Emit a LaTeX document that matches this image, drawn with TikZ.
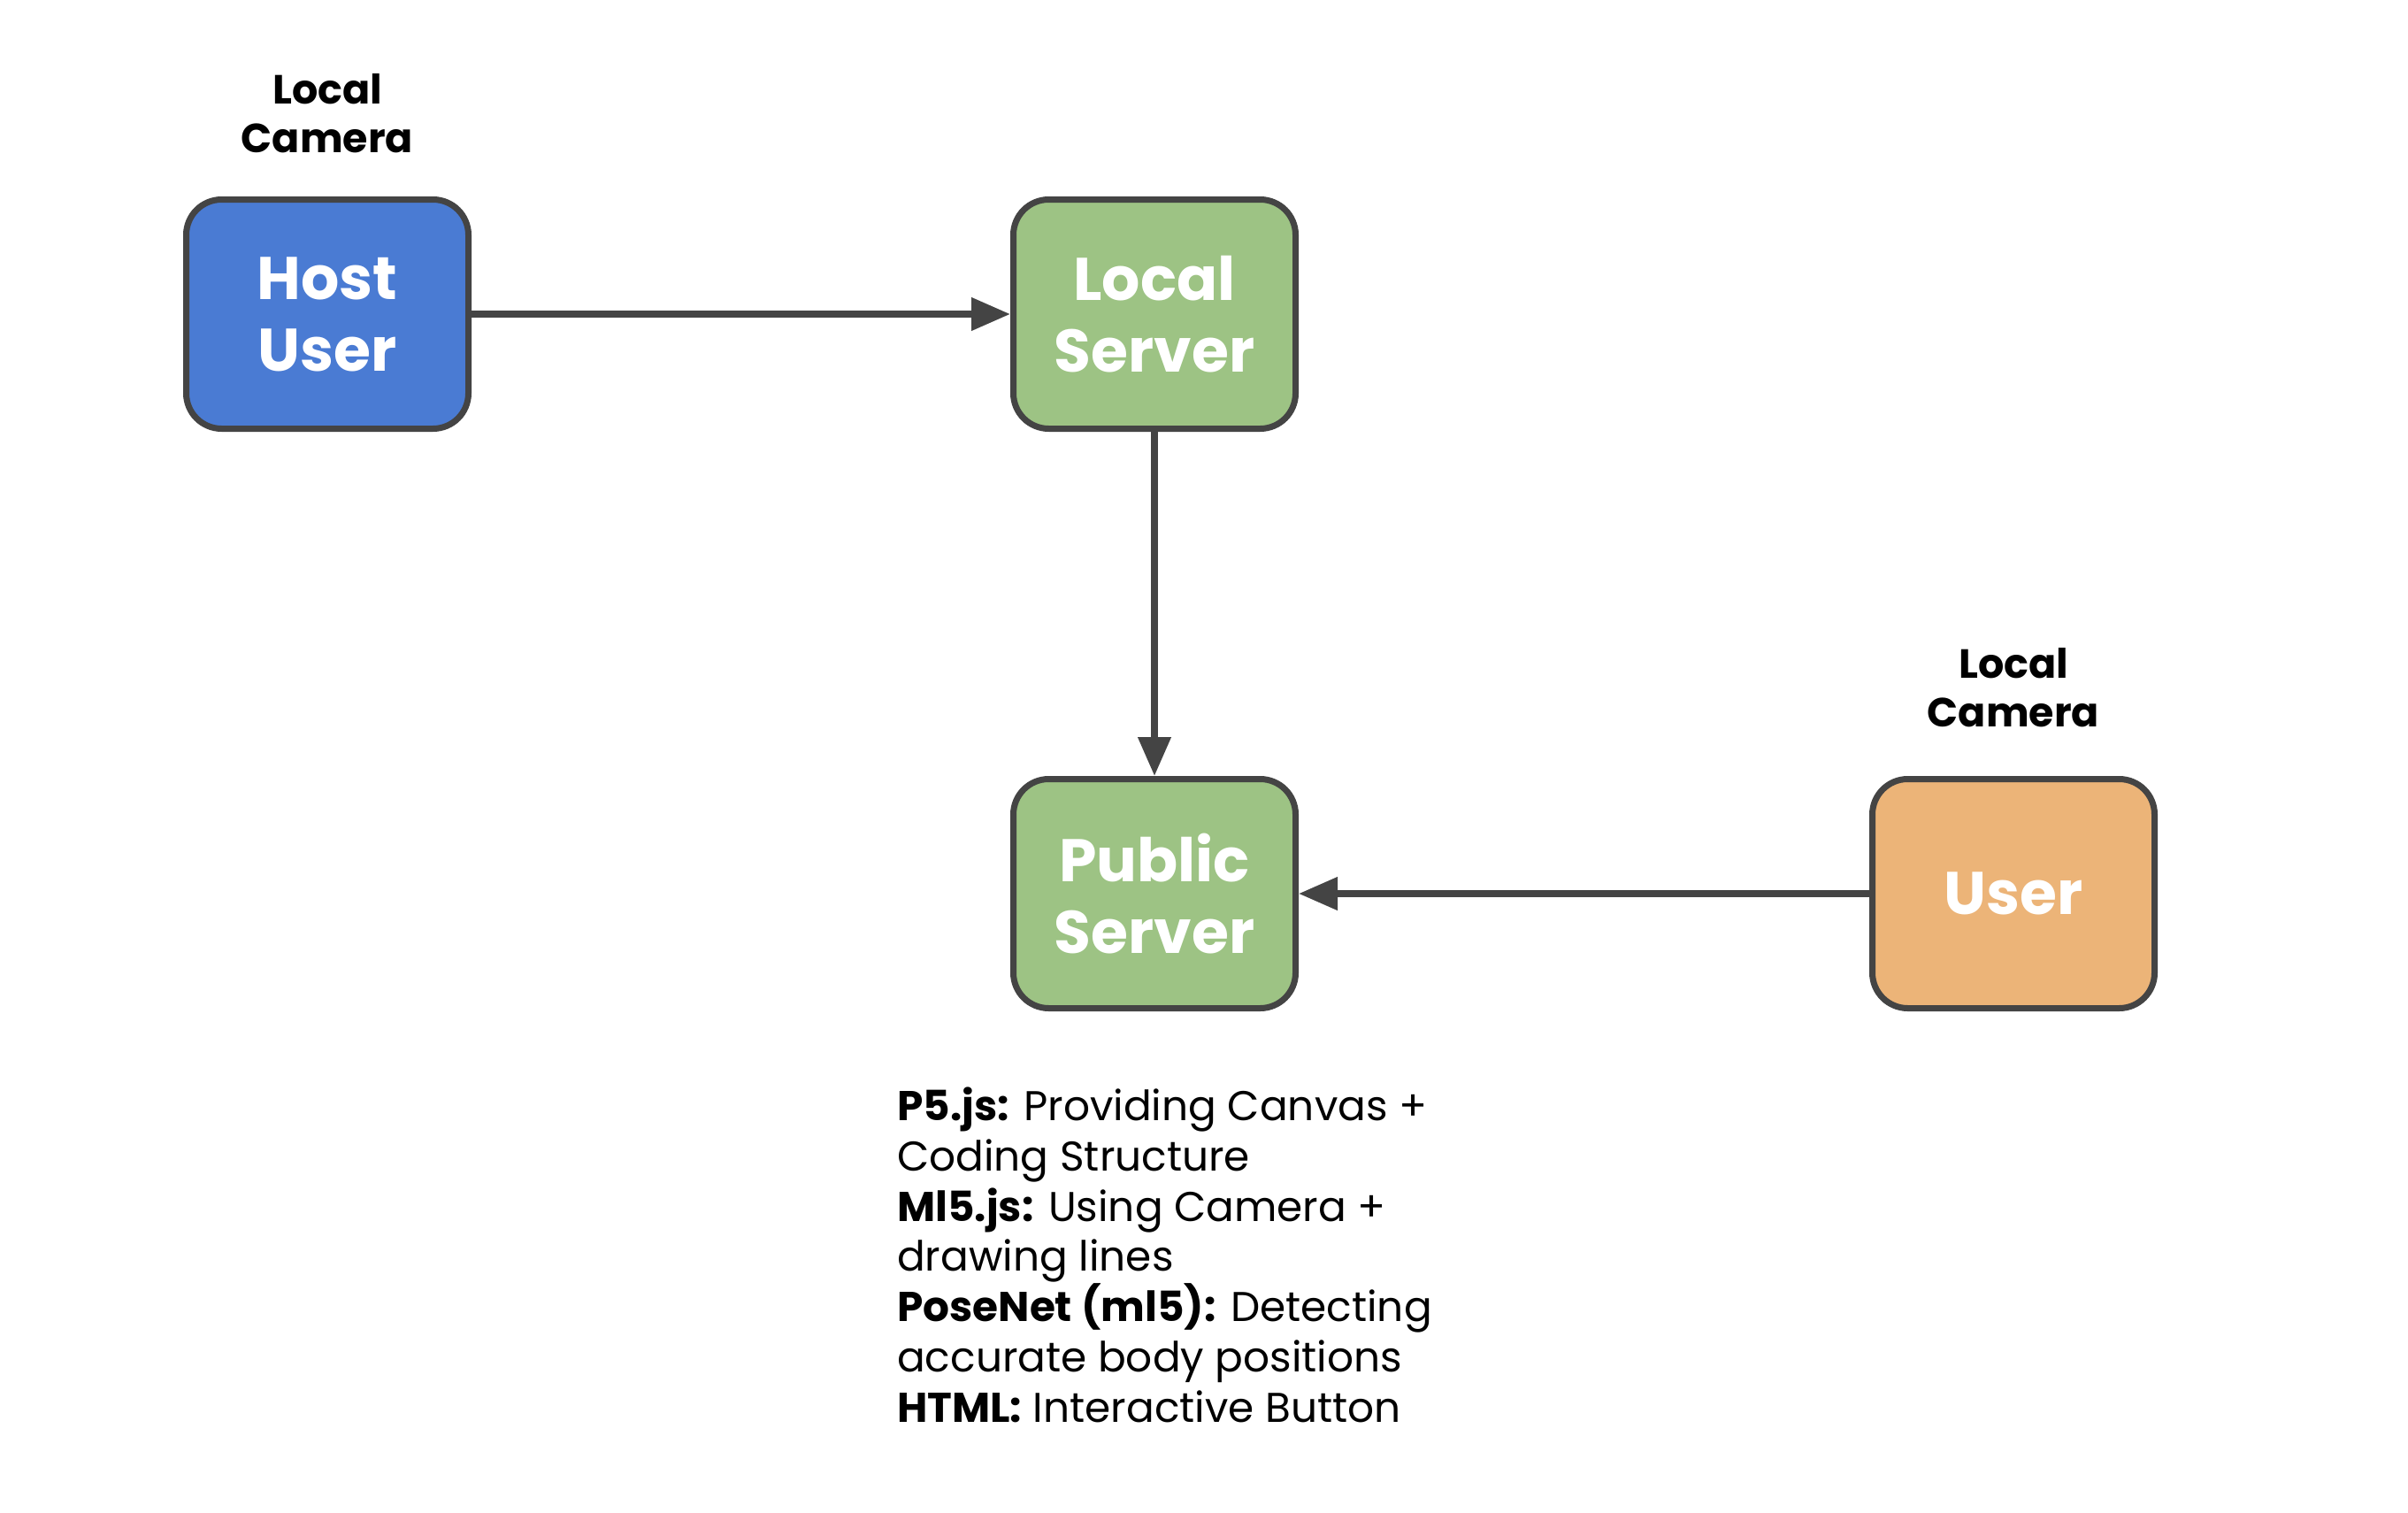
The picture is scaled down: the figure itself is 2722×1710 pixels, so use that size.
\documentclass[tikz,border=0pt]{standalone}
\usepackage{fontspec}
\setmainfont{Poppins}
\usetikzlibrary{arrows.meta}
\definecolor{edge}{HTML}{444444}
\definecolor{hostblue}{HTML}{4A7BD3}
\definecolor{srvgreen}{HTML}{9DC384}
\definecolor{userorange}{HTML}{ECB478}
\begin{document}
\begin{tikzpicture}[x=1pt,y=-1pt,
  boxnode/.style={draw=edge,line width=7pt,rounded corners=40pt,minimum width=319pt,minimum height=259pt,
    inner sep=0pt,align=center,text=white,font=\fontsize{68}{81}\selectfont\bfseries},
  camlabel/.style={align=center,inner sep=0pt,font=\fontsize{46}{55}\selectfont\bfseries},
  conn/.style={draw=edge,line width=7.5pt,-{Triangle[length=44pt,width=36pt]}}]
\useasboundingbox (0,0) rectangle (2722,1710);
\node[boxnode,fill=hostblue] (host) at (370,355) {Host\\User};
\node[boxnode,fill=srvgreen] (locsrv) at (1305,355) {Local\\Server};
\node[boxnode,fill=srvgreen] (pubsrv) at (1305,1010) {Public\\Server};
\node[boxnode,fill=userorange] (user) at (2276,1010) {User};
\node[camlabel] (cam1) at (370,128) {Local\\Camera};
\node[camlabel] (cam2) at (2276,777) {Local\\Camera};
\node[anchor=north west,inner sep=0pt,align=left,font=\fontsize{47}{56.7}\selectfont] (notes) at (1014,1229)
 {\textbf{P5.js:} Providing Canvas +\\
  Coding Structure\\
  \textbf{Ml5.js:} Using Camera +\\
  drawing lines\\
  \textbf{PoseNet (ml5):} Detecting\\
  accurate body positions\\
  \textbf{HTML:} Interactive Button};
\draw[conn] (host.east) -- (locsrv.west);
\draw[conn] (locsrv.south) -- (pubsrv.north);
\draw[conn] (user.west) -- (pubsrv.east);
\end{tikzpicture}
\end{document}
